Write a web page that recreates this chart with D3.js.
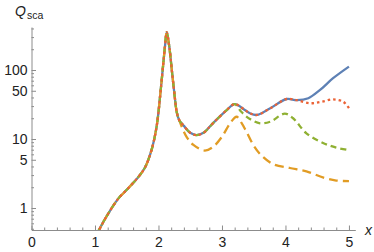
<!DOCTYPE html>
<html>
<head>
<meta charset="utf-8">
<script src="https://cdn.jsdelivr.net/npm/d3@7"></script>
<style>
  body { margin: 0; background: #fff; }
  text { font-family: "Liberation Sans", Arial, sans-serif; }
</style>
</head>
<body>
<div id="chart"></div>
<script>
// shared rise + resonance peak (all four curves agree here)
var xHead = [1.03, 1.18, 1.37, 1.47, 1.6, 1.7, 1.79, 1.89, 1.97, 2.035, 2.076, 2.102, 2.13, 2.17, 2.21, 2.25, 2.29, 2.33];
var qHead = [0.42, 0.75, 1.38, 1.72, 2.3, 2.95, 3.9, 6.9, 15, 51, 125, 218, 355, 218, 100, 46, 24, 18.5];

// blue / green / red stay together up to the 2nd peak
var xMid = [2.4, 2.5, 2.6, 2.71, 2.86, 3.07, 3.2];
var qMid = [15.5, 12.3, 11.4, 12.3, 17, 26, 32];

// blue / red together up to x ~ 4.2
var xBR = [3.36, 3.44, 3.55, 3.76, 4.02, 4.18];
var qBR = [26.3, 23.6, 22.3, 27.9, 38, 36.5];

var xBlue = [4.36, 4.54, 4.75, 5.0];
var qBlue = [39, 51, 76, 112];

var xRed = [4.39, 4.57, 4.75, 4.91, 5.0];
var qRed = [33, 34.7, 37.5, 34.7, 28];

var xGreen = [3.3, 3.44, 3.6, 3.76, 3.99, 4.12, 4.33, 4.6, 4.8, 5.0];
var qGreen = [25, 19.5, 16.9, 17.8, 23.3, 20, 12.1, 8.7, 7.5, 6.9];

var xOrange = [2.38, 2.45, 2.55, 2.73, 2.86, 3.0, 3.13, 3.23, 3.31, 3.39, 3.5, 3.62, 3.81, 4.07, 4.33, 4.6, 4.8, 5.0];
var qOrange = [14, 10.5, 8.2, 6.8, 7.7, 10.8, 17, 21, 17, 12.5, 8, 5.8, 4.3, 3.8, 3.4, 2.75, 2.5, 2.45];

var xTicks = [0, 1, 2, 3, 4, 5];
var yTicks = [1, 5, 10, 50, 100];
var yMinor = [0.5, 0.6, 0.7, 0.8, 0.9, 2, 3, 4, 6, 7, 8, 9, 20, 30, 40, 60, 70, 80, 90, 200, 300, 400];

function pts(xs, qs) {
    return xs.map(function(d, i) { return [d, qs[i]]; });
}

var blue = pts(xHead.concat(xMid, xBR, xBlue), qHead.concat(qMid, qBR, qBlue));
var red = pts(xHead.concat(xMid, xBR, xRed), qHead.concat(qMid, qBR, qRed));
var green = pts(xHead.concat(xMid, xGreen), qHead.concat(qMid, qGreen));
var orange = pts(xHead.concat(xOrange), qHead.concat(qOrange));

var width = 374, height = 252;

var svg = d3.select("#chart").append("svg")
    .attr("width", width)
    .attr("height", height);

var x = d3.scaleLinear().domain([0, 5.1]).range([31.5, 355.3]);
var y = d3.scaleLog().domain([0.48, 420]).range([230, 27]);

svg.append("clipPath").attr("id", "clip")
  .append("rect")
    .attr("x", x(0)).attr("y", 15)
    .attr("width", x(5.1) - x(0)).attr("height", 215);

// ---- axes ----
var axisColor = "#8c8c8c";

var xMinorTicks = d3.range(0.2, 5.01, 0.2).filter(function(d) { return Math.abs(d - Math.round(d)) > 0.01; });

svg.append("g")
    .attr("transform", "translate(0,230)")
    .call(d3.axisBottom(x).tickValues(xMinorTicks).tickSizeInner(-2.5).tickSizeOuter(0).tickFormat(""))
    .call(function(g) { g.select(".domain").remove(); });

var xg = svg.append("g")
    .attr("transform", "translate(0,230)")
    .call(d3.axisBottom(x).tickValues(xTicks).tickSizeInner(-4.5).tickSizeOuter(0).tickPadding(7).tickFormat(d3.format("d")));

svg.append("g")
    .attr("transform", "translate(31.5,0)")
    .call(d3.axisLeft(y).tickValues(yMinor).tickSizeInner(-2.5).tickSizeOuter(0).tickFormat(""))
    .call(function(g) { g.select(".domain").remove(); });

var yg = svg.append("g")
    .attr("transform", "translate(31.5,0)")
    .call(d3.axisLeft(y).tickValues(yTicks).tickSizeInner(-4.5).tickSizeOuter(0).tickPadding(4).tickFormat(d3.format("d")));

svg.selectAll(".domain, .tick line").attr("stroke", axisColor);
svg.selectAll(".tick text")
    .attr("font-family", "Liberation Sans, Arial, sans-serif")
    .attr("font-size", 14)
    .attr("fill", "#222");
xg.selectAll(".tick text").attr("dy", "0.71em");

// axis titles
var qt = svg.append("text").attr("x", 15).attr("y", 16).attr("fill", "#222");
qt.append("tspan").attr("font-size", 14).attr("font-style", "italic").text("Q");
qt.append("tspan").attr("font-size", 10.5).attr("dx", 1).attr("dy", 3).text("sca");

svg.append("text")
    .attr("x", 365).attr("y", 235)
    .attr("font-size", 14).attr("font-style", "italic")
    .attr("fill", "#222")
    .text("x");

// ---- curves ----
var line = d3.line()
    .curve(d3.curveCatmullRom.alpha(0.5))
    .x(function(d) { return x(d[0]); })
    .y(function(d) { return y(d[1]); });

var series = [
    { pts: blue,   color: "#5E81B5", dash: null },
    { pts: orange, color: "#E19C24", dash: "9,5" },
    { pts: green,  color: "#8FB032", dash: "6,4" },
    { pts: red,    color: "#EB6235", dash: "2.5,3" }
];

svg.append("g").attr("clip-path", "url(#clip)")
  .selectAll("path")
  .data(series)
  .enter().append("path")
    .attr("d", function(d) { return line(d.pts); })
    .attr("fill", "none")
    .attr("stroke", function(d) { return d.color; })
    .attr("stroke-width", 2.3)
    .attr("stroke-dasharray", function(d) { return d.dash; });
</script>
</body>
</html>
